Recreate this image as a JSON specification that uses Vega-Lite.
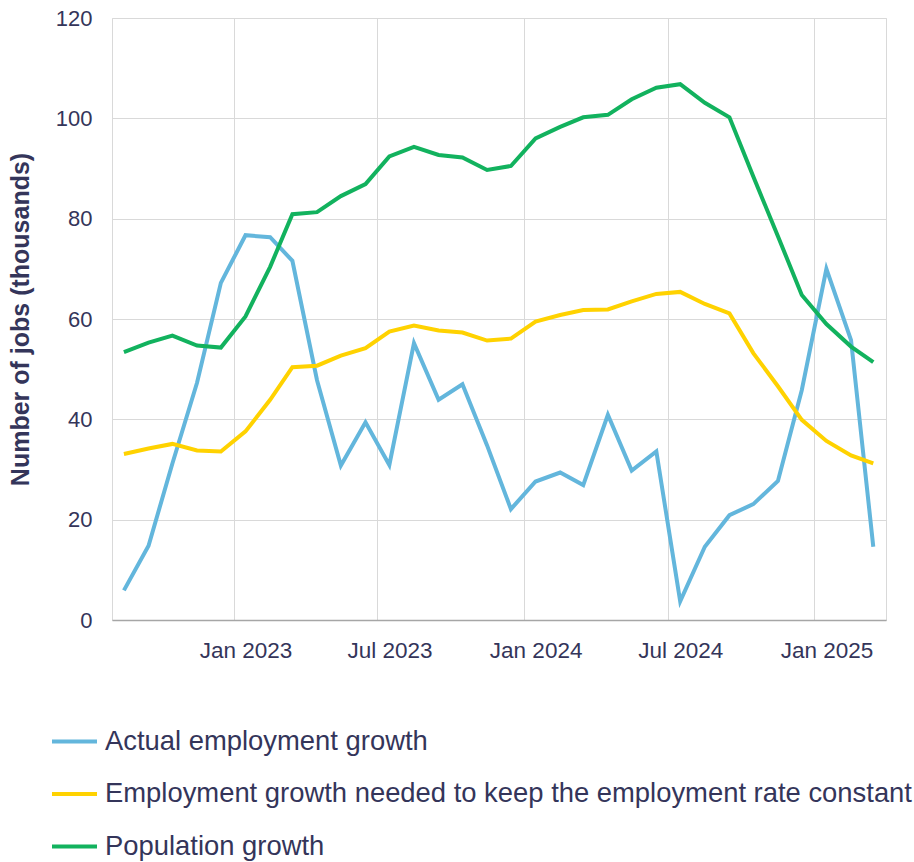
{
  "$schema": "https://vega.github.io/schema/vega-lite/v6.json",
  "width": 774,
  "height": 602,
  "autosize": {"type": "none"},
  "padding": {"left": 112, "top": 18, "right": 28, "bottom": 242},
  "background": "white",
  "config": {
    "view": {"stroke": "#d9d9d9", "strokeWidth": 1},
    "font": "Liberation Sans",
    "axis": {"labelFont": "Liberation Sans", "titleFont": "Liberation Sans", "labelColor": "#34355a", "titleColor": "#34355a", "gridColor": "#d9d9d9", "gridWidth": 1},
    "legend": {"labelFont": "Liberation Sans", "labelColor": "#34355a"}
  },
  "data": {
    "values": [
      {"date": "2022-08-16", "Actual employment growth": 5.9, "Employment growth needed to keep the employment rate constant": 33.1, "Population growth": 53.4},
      {"date": "2022-09-16", "Actual employment growth": 14.8, "Employment growth needed to keep the employment rate constant": 34.2, "Population growth": 55.3},
      {"date": "2022-10-16", "Actual employment growth": 31.2, "Employment growth needed to keep the employment rate constant": 35.1, "Population growth": 56.7},
      {"date": "2022-11-16", "Actual employment growth": 47.3, "Employment growth needed to keep the employment rate constant": 33.8, "Population growth": 54.7},
      {"date": "2022-12-16", "Actual employment growth": 67.2, "Employment growth needed to keep the employment rate constant": 33.6, "Population growth": 54.3},
      {"date": "2023-01-16", "Actual employment growth": 76.7, "Employment growth needed to keep the employment rate constant": 37.6, "Population growth": 60.5},
      {"date": "2023-02-16", "Actual employment growth": 76.3, "Employment growth needed to keep the employment rate constant": 43.9, "Population growth": 70.4},
      {"date": "2023-03-16", "Actual employment growth": 71.6, "Employment growth needed to keep the employment rate constant": 50.4, "Population growth": 80.9},
      {"date": "2023-04-16", "Actual employment growth": 47.8, "Employment growth needed to keep the employment rate constant": 50.7, "Population growth": 81.3},
      {"date": "2023-05-16", "Actual employment growth": 30.8, "Employment growth needed to keep the employment rate constant": 52.7, "Population growth": 84.5},
      {"date": "2023-06-16", "Actual employment growth": 39.4, "Employment growth needed to keep the employment rate constant": 54.2, "Population growth": 86.9},
      {"date": "2023-07-16", "Actual employment growth": 30.9, "Employment growth needed to keep the employment rate constant": 57.5, "Population growth": 92.4},
      {"date": "2023-08-16", "Actual employment growth": 55.2, "Employment growth needed to keep the employment rate constant": 58.7, "Population growth": 94.3},
      {"date": "2023-09-16", "Actual employment growth": 43.9, "Employment growth needed to keep the employment rate constant": 57.7, "Population growth": 92.7},
      {"date": "2023-10-16", "Actual employment growth": 47.0, "Employment growth needed to keep the employment rate constant": 57.3, "Population growth": 92.2},
      {"date": "2023-11-16", "Actual employment growth": 34.8, "Employment growth needed to keep the employment rate constant": 55.7, "Population growth": 89.7},
      {"date": "2023-12-16", "Actual employment growth": 22.1, "Employment growth needed to keep the employment rate constant": 56.1, "Population growth": 90.5},
      {"date": "2024-01-16", "Actual employment growth": 27.6, "Employment growth needed to keep the employment rate constant": 59.5, "Population growth": 96.0},
      {"date": "2024-02-16", "Actual employment growth": 29.4, "Employment growth needed to keep the employment rate constant": 60.8, "Population growth": 98.3},
      {"date": "2024-03-16", "Actual employment growth": 26.9, "Employment growth needed to keep the employment rate constant": 61.8, "Population growth": 100.2},
      {"date": "2024-04-16", "Actual employment growth": 40.9, "Employment growth needed to keep the employment rate constant": 61.9, "Population growth": 100.7},
      {"date": "2024-05-16", "Actual employment growth": 29.8, "Employment growth needed to keep the employment rate constant": 63.5, "Population growth": 103.8},
      {"date": "2024-06-16", "Actual employment growth": 33.6, "Employment growth needed to keep the employment rate constant": 65.0, "Population growth": 106.1},
      {"date": "2024-07-16", "Actual employment growth": 3.7, "Employment growth needed to keep the employment rate constant": 65.4, "Population growth": 106.8},
      {"date": "2024-08-16", "Actual employment growth": 14.6, "Employment growth needed to keep the employment rate constant": 63.0, "Population growth": 103.1},
      {"date": "2024-09-16", "Actual employment growth": 20.9, "Employment growth needed to keep the employment rate constant": 61.1, "Population growth": 100.2},
      {"date": "2024-10-16", "Actual employment growth": 23.1, "Employment growth needed to keep the employment rate constant": 53.2, "Population growth": 88.4},
      {"date": "2024-11-16", "Actual employment growth": 27.7, "Employment growth needed to keep the employment rate constant": 46.6, "Population growth": 76.5},
      {"date": "2024-12-16", "Actual employment growth": 45.8, "Employment growth needed to keep the employment rate constant": 39.9, "Population growth": 64.8},
      {"date": "2025-01-16", "Actual employment growth": 70.0, "Employment growth needed to keep the employment rate constant": 35.7, "Population growth": 59.0},
      {"date": "2025-02-16", "Actual employment growth": 55.8, "Employment growth needed to keep the employment rate constant": 32.8, "Population growth": 54.5},
      {"date": "2025-03-16", "Actual employment growth": 14.6, "Employment growth needed to keep the employment rate constant": 31.2, "Population growth": 51.4}
    ]
  },
  "transform": [
    {"fold": ["Actual employment growth", "Employment growth needed to keep the employment rate constant", "Population growth"], "as": ["series", "value"]}
  ],
  "mark": {"type": "line", "strokeWidth": 4},
  "encoding": {
    "x": {
      "field": "date",
      "type": "temporal",
      "scale": {"type": "utc", "domain": [{"year": 2022, "month": 8, "date": 1, "utc": true}, {"year": 2025, "month": 4, "date": 1, "utc": true}]},
      "axis": {
        "title": null,
        "values": [
          {"year": 2023, "month": 1, "date": 1, "utc": true},
          {"year": 2023, "month": 7, "date": 1, "utc": true},
          {"year": 2024, "month": 1, "date": 1, "utc": true},
          {"year": 2024, "month": 7, "date": 1, "utc": true},
          {"year": 2025, "month": 1, "date": 1, "utc": true}
        ],
        "format": "%b %Y",
        "labelOffset": 12,
        "ticks": false,
        "labelPadding": 19,
        "labelFontSize": 22.5,
        "grid": true,
        "domainColor": "#a6a6a6",
        "domainWidth": 1.5
      }
    },
    "y": {
      "field": "value",
      "type": "quantitative",
      "scale": {"domain": [0, 120], "nice": false},
      "axis": {
        "title": "Number of jobs (thousands)",
        "values": [0, 20, 40, 60, 80, 100, 120],
        "ticks": false,
        "domain": false,
        "labelPadding": 20,
        "labelFontSize": 22,
        "titleFontSize": 25,
        "titleFontWeight": "bold",
        "titlePadding": 22
      }
    },
    "color": {
      "field": "series",
      "type": "nominal",
      "scale": {
        "domain": ["Actual employment growth", "Employment growth needed to keep the employment rate constant", "Population growth"],
        "range": ["#63b6dc", "#ffd200", "#12b25e"]
      },
      "legend": {
        "orient": "none",
        "legendX": -62,
        "legendY": 699,
        "title": null,
        "direction": "vertical",
        "symbolType": "stroke",
        "symbolSize": 2025,
        "symbolStrokeWidth": 4,
        "labelFontSize": 27.4,
        "labelOffset": 6,
        "labelLimit": 0,
        "rowPadding": 14.5
      }
    }
  }
}
